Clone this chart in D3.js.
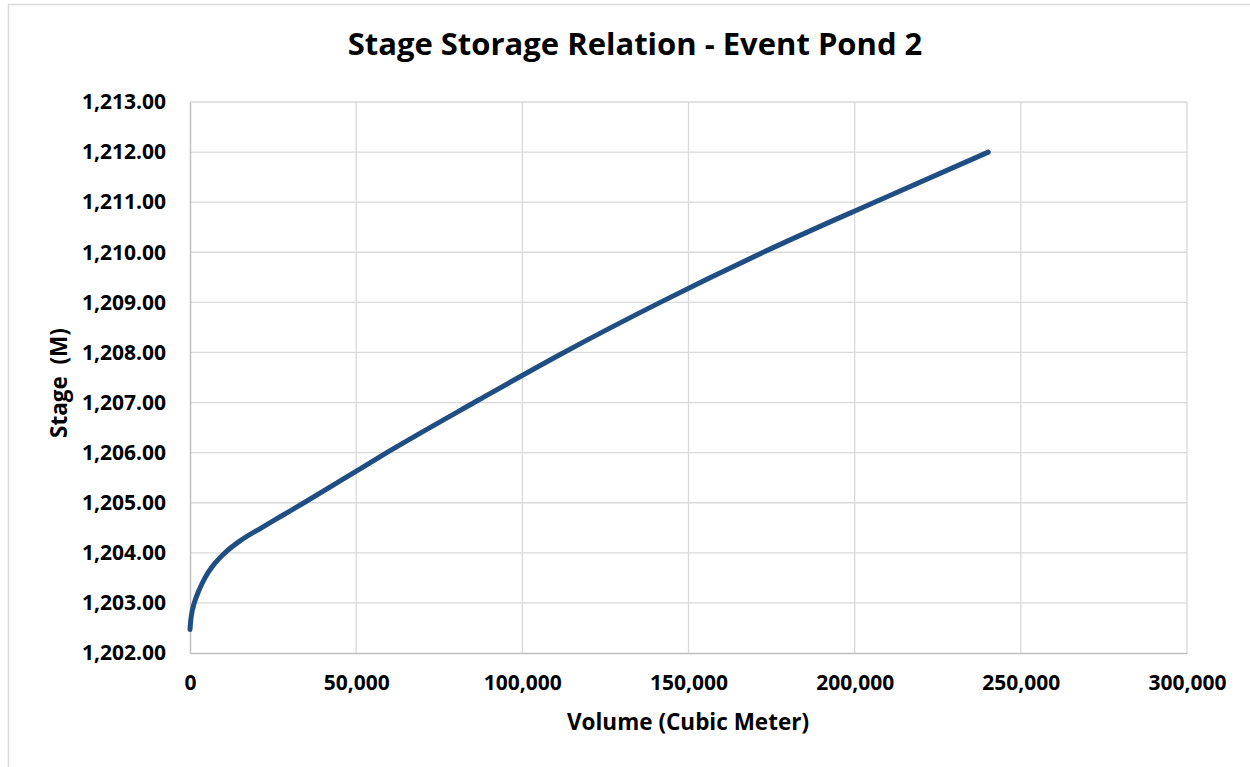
<!DOCTYPE html>
<html>
<head>
<meta charset="utf-8">
<script src="https://cdn.jsdelivr.net/npm/d3@7"></script>
<style>
  html, body { margin: 0; padding: 0; background: #fff; }
  svg { display: block; font-family: "Open Sans", Lato, sans-serif; }
</style>
</head>
<body>
<svg id="chart" width="1250" height="767"></svg>
<script>
// Stage–storage curve for Event Pond 2
const volume = [0, 150, 550, 1300, 2700, 4500, 7000, 10500, 15300, 21500, 27900, 34300, 46800, 59200, 85500, 112500, 141500, 172500, 206000, 240200];
const stage  = [1202.47, 1202.6, 1202.8, 1203.0, 1203.25, 1203.5, 1203.75, 1204.0, 1204.25, 1204.5, 1204.75, 1205.0, 1205.5, 1206.0, 1207.0, 1208.0, 1209.0, 1210.0, 1211.0, 1212.0];

const xTicks = [0, 50000, 100000, 150000, 200000, 250000, 300000];
const yTicks = [1202, 1203, 1204, 1205, 1206, 1207, 1208, 1209, 1210, 1211, 1212, 1213];

const titleText = "Stage Storage Relation - Event Pond 2";
const xTitle = "Volume (Cubic Meter)";
const yTitle = "Stage  (M)";

const FONT = "'Open Sans', Lato, sans-serif";
const svg = d3.select("#chart");

// outer chart frame
svg.append("rect")
  .attr("x", 8.5).attr("y", 4.5)
  .attr("width", 1400).attr("height", 900)
  .attr("fill", "#fff")
  .attr("stroke", "#d9d9d9").attr("stroke-width", 1.5);

const plot = { left: 190, right: 1187, top: 102, bottom: 653 };

const x = d3.scaleLinear().domain([0, 300000]).range([plot.left, plot.right]);
const y = d3.scaleLinear().domain([1202, 1213]).range([plot.bottom, plot.top]);

// gridlines
svg.append("g")
  .selectAll("line")
  .data(yTicks.slice(1))
  .join("line")
  .attr("x1", plot.left).attr("x2", plot.right)
  .attr("y1", d => y(d)).attr("y2", d => y(d))
  .attr("stroke", "#d9d9d9").attr("stroke-width", 1.3);

svg.append("g")
  .selectAll("line")
  .data(xTicks.slice(1))
  .join("line")
  .attr("x1", d => x(d)).attr("x2", d => x(d))
  .attr("y1", plot.top).attr("y2", plot.bottom)
  .attr("stroke", "#d9d9d9").attr("stroke-width", 1.3);

// x axis
const fmtX = d3.format(",");
const xAxis = svg.append("g")
  .attr("transform", `translate(0,${plot.bottom})`)
  .call(d3.axisBottom(x).tickValues(xTicks).tickFormat(fmtX).tickSize(0).tickPadding(22));
xAxis.select(".domain").attr("stroke", "#bfbfbf").attr("stroke-width", 1.5);
xAxis.selectAll("text")
  .attr("font-family", FONT)
  .attr("font-size", 21).attr("font-weight", "bold").attr("fill", "#000");

// y axis
const fmtY = d3.format(",.2f");
const yAxis = svg.append("g")
  .attr("transform", `translate(${plot.left},0)`)
  .call(d3.axisLeft(y).tickValues(yTicks).tickFormat(fmtY).tickSize(0).tickPadding(24));
yAxis.select(".domain").attr("stroke", "#bfbfbf").attr("stroke-width", 1.5);
yAxis.selectAll("text")
  .attr("font-family", FONT)
  .attr("font-size", 21).attr("font-weight", "bold").attr("fill", "#000");

// stage-storage curve
const pts = volume.map((v, i) => [v, stage[i]]);
svg.append("path")
  .datum(pts)
  .attr("fill", "none")
  .attr("stroke", "#1f4e84")
  .attr("stroke-width", 5)
  .attr("stroke-linecap", "round")
  .attr("stroke-linejoin", "round")
  .attr("d", d3.line().x(d => x(d[0])).y(d => y(d[1])).curve(d3.curveMonotoneX));

// titles
svg.append("text")
  .attr("x", 635).attr("y", 55)
  .attr("text-anchor", "middle")
  .attr("font-family", FONT)
  .attr("font-size", 31).attr("font-weight", "bold").attr("fill", "#000")
  .text(titleText);

svg.append("text")
  .attr("x", 688).attr("y", 730)
  .attr("text-anchor", "middle")
  .attr("font-family", FONT)
  .attr("font-size", 22.5).attr("font-weight", "bold").attr("fill", "#000")
  .text(xTitle);

svg.append("text")
  .attr("transform", "translate(67,383) rotate(-90)")
  .attr("text-anchor", "middle")
  .attr("font-family", FONT)
  .attr("font-size", 22.5).attr("font-weight", "bold").attr("fill", "#000")
  .style("white-space", "pre")
  .text(yTitle);
</script>
</body>
</html>
